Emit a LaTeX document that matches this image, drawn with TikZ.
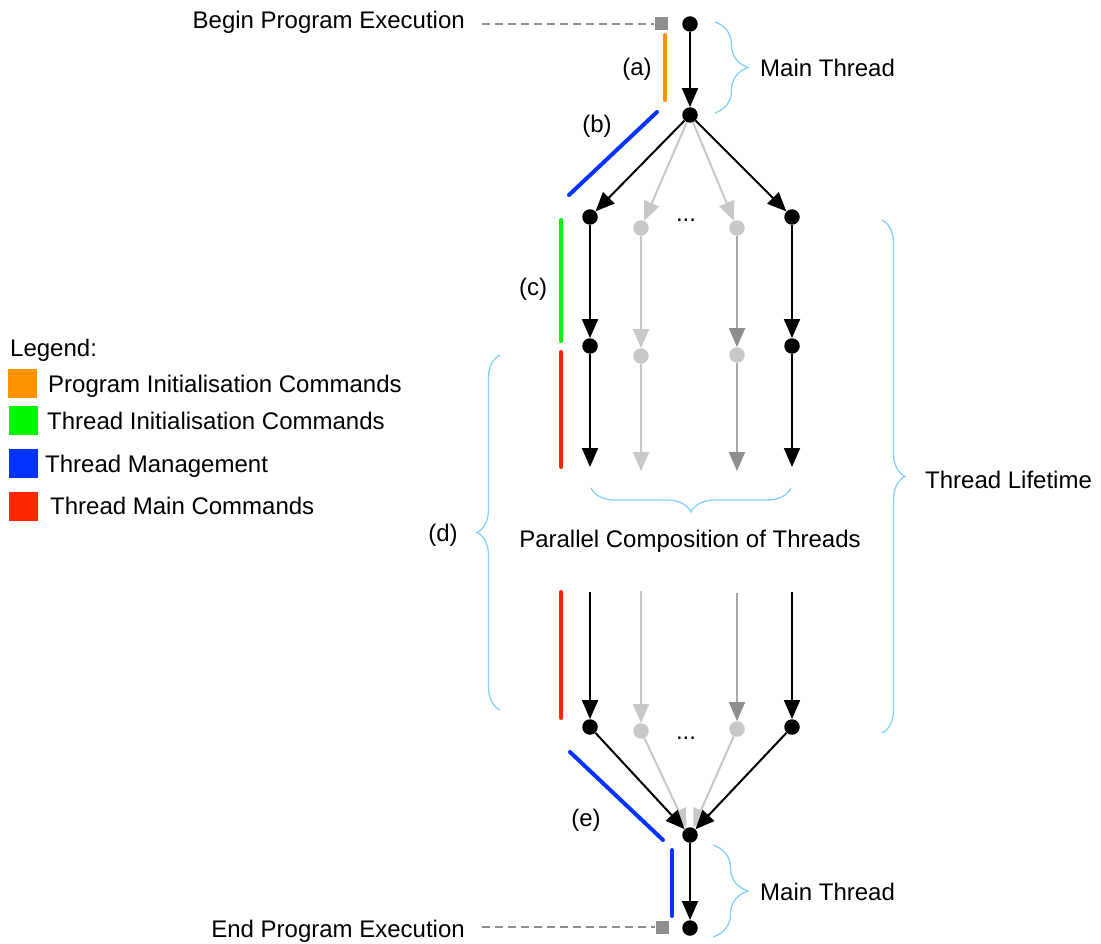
\documentclass[tikz,border=0pt]{standalone}
\usepackage{fontspec}
\setmainfont{Liberation Sans}
\usetikzlibrary{arrows.meta,decorations.pathreplacing}
\definecolor{cOrange}{HTML}{FF9300}
\definecolor{cGreen}{HTML}{00F900}
\definecolor{cBlue}{HTML}{0433FF}
\definecolor{cRed}{HTML}{FF2600}
\definecolor{cBrace}{HTML}{84D0FF}
\definecolor{cLight}{HTML}{C8C8C8}
\definecolor{cMid}{HTML}{A6A6A6}
\definecolor{cDark}{HTML}{8E8E8E}
\begin{document}
\begin{tikzpicture}[x=1pt,y=-1pt,
  font=\fontsize{24}{28}\selectfont,
  bdot/.style={circle,fill=black,inner sep=0pt,minimum size=15.5pt},
  gdot/.style={circle,fill=cLight,inner sep=0pt,minimum size=15.5pt},
  sqr/.style={fill=cDark,inner sep=0pt,minimum size=13pt},
  legsq/.style={inner sep=0pt,minimum size=29pt},
  barr/.style={line width=2pt,draw=black,-{Triangle[length=19pt,width=16pt]}},
  larr/.style={line width=2pt,draw=cLight,-{Triangle[length=19pt,width=16pt,color=cLight]}},
  darr/.style={line width=2pt,draw=cMid,-{Triangle[length=19pt,width=16pt,color=cDark]}},
  cbar/.style={line width=4pt,line cap=round},
  dashline/.style={draw=cDark,line width=1.5pt,dash pattern=on 8pt off 5pt},
  bracestyle/.style={draw=cBrace,line width=1.3pt,decorate,decoration={brace,amplitude=#1}},
  txt/.style={inner sep=0pt}
]
\useasboundingbox (0,0) rectangle (1101,944);

% main thread nodes
\node[bdot] (m1) at (690,24) {};
\node[bdot] (m2) at (690,115) {};
\node[bdot] (m3) at (690,835) {};
\node[bdot] (m4) at (690,928) {};
\node[sqr] (s1) at (661,24) {};
\node[sqr] (s2) at (662,927) {};
\coordinate (d1) at (482,24);
\coordinate (d2) at (482,927);
\draw[dashline] (d1) -- (s1);
\draw[dashline] (d2) -- (s2);

% fork dots
\node[bdot] (f1) at (590,217) {};
\node[gdot] (f2) at (641,228) {};
\node[gdot] (f3) at (737,228) {};
\node[bdot] (f4) at (792,217) {};
\node[bdot] (g1) at (590,346) {};
\node[gdot] (g2) at (641,356) {};
\node[gdot] (g3) at (737,355) {};
\node[bdot] (g4) at (792,346) {};
\coordinate (e1) at (590,467);
\coordinate (e2) at (641,471);
\coordinate (e3) at (737,471);
\coordinate (e4) at (792,467);
\coordinate (t1) at (590,592);
\coordinate (t2) at (641,591);
\coordinate (t3) at (737,593);
\coordinate (t4) at (792,592);
\node[bdot] (h1) at (590,727) {};
\node[gdot] (h2) at (641,731) {};
\node[gdot] (h3) at (737,729) {};
\node[bdot] (h4) at (792,727) {};

\draw[barr] (m1) -- (m2);
\draw[larr] (m2) -- (f2);
\draw[larr] (m2) -- (f3);
\draw[barr] (m2) -- (f1);
\draw[barr] (m2) -- (f4);
\draw[barr] (f1) -- (g1);
\draw[larr] (f2) -- (g2);
\draw[darr] (f3) -- (g3);
\draw[barr] (f4) -- (g4);
\draw[barr] (g1) -- (e1);
\draw[larr] (g2) -- (e2);
\draw[darr] (g3) -- (e3);
\draw[barr] (g4) -- (e4);
\draw[barr] (t1) -- (h1);
\draw[larr] (t2) -- (h2);
\draw[darr] (t3) -- (h3);
\draw[barr] (t4) -- (h4);
\draw[larr] (h2) -- (m3);
\draw[larr] (h3) -- (m3);
\draw[barr] (h1) -- (m3);
\draw[barr] (h4) -- (m3);
\draw[barr] (m3) -- (m4);

\node[txt,anchor=base] (dots1) at (686,222) {...};
\node[txt,anchor=base] (dots2) at (686,739) {...};

% coloured bars
\draw[cbar,cOrange] (665,35) -- (665,100);
\draw[cbar,cBlue] (657,112) -- (569,195);
\draw[cbar,cGreen] (561,220) -- (561,341);
\draw[cbar,cRed] (561,352) -- (561,467);
\draw[cbar,cRed] (561,592) -- (561,718);
\draw[cbar,cBlue] (570,752) -- (663,840);
\draw[cbar,cBlue] (672,850) -- (672,916);

% braces
\draw[bracestyle=33] (715,22) -- (715,113);
\draw[bracestyle=23] (882,220) -- (882,733);
\draw[bracestyle=23] (500,710) -- (500,355);
\draw[bracestyle=24] (791,488) -- (591,488);
\draw[bracestyle=35] (713,845) -- (713,937);

% labels
\node[txt,anchor=base east] (lbegin) at (465,29) {Begin Program Execution};
\node[txt,anchor=base east] (lend) at (465,937) {End Program Execution};
\node[txt,anchor=base] (la) at (637,76) {(a)};
\node[txt,anchor=base] (lb) at (597,133) {(b)};
\node[txt,anchor=base] (lc) at (533,295) {(c)};
\node[txt,anchor=base] (ld) at (443,541) {(d)};
\node[txt,anchor=base] (le) at (586,826) {(e)};
\node[txt,anchor=base west] (mt1) at (760,77) {Main Thread};
\node[txt,anchor=base west] (mt2) at (760,900) {Main Thread};
\node[txt,anchor=base west] (tl) at (925,488) {Thread Lifetime};
\node[txt,anchor=base] (pc) at (690,547) {Parallel Composition of Threads};

% legend
\node[txt,anchor=base west] (leg) at (10,356) {Legend:};
\node[legsq,fill=cOrange] (q1) at (22.5,383.5) {};
\node[legsq,fill=cGreen] (q2) at (23.5,420) {};
\node[legsq,fill=cBlue] (q3) at (23.5,463.5) {};
\node[legsq,fill=cRed] (q4) at (23.5,506.5) {};
\node[txt,anchor=base west] (l1) at (48,392) {Program Initialisation Commands};
\node[txt,anchor=base west] (l2) at (47,429) {Thread Initialisation Commands};
\node[txt,anchor=base west] (l3) at (45,472) {Thread Management};
\node[txt,anchor=base west] (l4) at (50,514) {Thread Main Commands};
\end{tikzpicture}
\end{document}
